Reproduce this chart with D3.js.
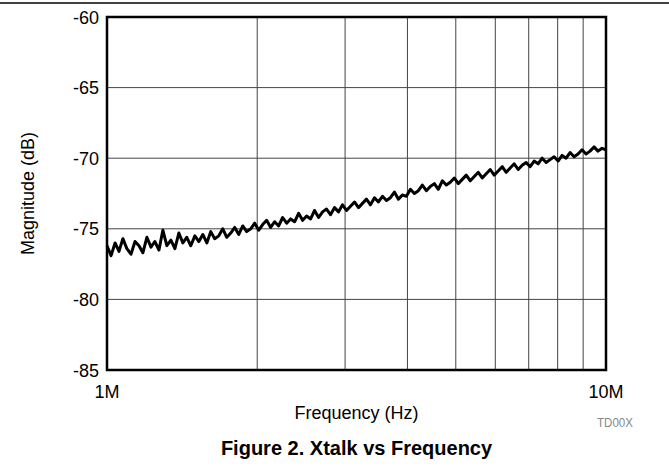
<!DOCTYPE html>
<html>
<head>
<meta charset="utf-8">
<script src="https://cdn.jsdelivr.net/npm/d3@7"></script>
<style>
  body { margin: 0; background: #fff; }
  text { font-family: "Liberation Sans", Arial, sans-serif; }
</style>
</head>
<body>
<div id="chart"></div>
<script>
// frequency in MHz
var freqMHz = [1.000,1.019,1.038,1.057,1.076,1.096,1.117,1.138,1.159,1.180,1.202,1.225,1.247,1.271,1.294,1.318,1.343,1.368,1.393,1.419,1.445,1.472,1.500,1.528,1.556,1.585,1.614,1.644,1.675,1.706,1.738,1.770,1.803,1.837,1.871,1.905,1.941,1.977,2.014,2.051,2.089,2.128,2.168,2.208,2.249,2.291,2.333,2.377,2.421,2.466,2.512,2.559,2.606,2.655,2.704,2.754,2.805,2.858,2.911,2.965,3.020,3.076,3.133,3.192,3.251,3.311,3.373,3.436,3.499,3.565,3.631,3.698,3.767,3.837,3.908,3.981,4.055,4.130,4.207,4.285,4.365,4.446,4.529,4.613,4.699,4.786,4.875,4.966,5.058,5.152,5.248,5.346,5.445,5.546,5.649,5.754,5.861,5.970,6.081,6.194,6.310,6.427,6.546,6.668,6.792,6.918,7.047,7.178,7.311,7.447,7.586,7.727,7.870,8.017,8.166,8.318,8.472,8.630,8.790,8.954,9.120,9.290,9.462,9.638,9.817,10.00];

// magnitude in dB
var magDB = [-76.2,-76.9,-76.0,-76.6,-75.7,-76.4,-76.8,-75.9,-76.2,-76.7,-75.6,-76.3,-75.9,-76.5,-75.1,-76.2,-75.8,-76.4,-75.3,-76.0,-75.6,-76.2,-75.5,-75.9,-75.4,-76.0,-75.2,-75.7,-75.5,-75.0,-75.6,-75.3,-74.9,-75.4,-74.8,-75.2,-75.0,-74.6,-75.1,-74.7,-74.4,-74.9,-74.5,-74.8,-74.2,-74.6,-74.3,-74.5,-73.9,-74.4,-74.1,-74.3,-73.7,-74.2,-73.8,-73.6,-74.0,-73.5,-73.8,-73.3,-73.7,-73.4,-73.1,-73.5,-73.2,-72.9,-73.3,-72.8,-73.1,-72.7,-73.0,-72.8,-72.4,-72.9,-72.6,-72.7,-72.2,-72.5,-72.3,-71.9,-72.3,-72.0,-71.8,-72.2,-71.6,-71.9,-71.7,-71.4,-71.8,-71.5,-71.2,-71.6,-71.3,-71.0,-71.4,-71.1,-70.8,-71.2,-70.9,-70.6,-71.0,-70.7,-70.4,-70.8,-70.5,-70.3,-70.6,-70.2,-70.4,-70.0,-70.3,-70.1,-69.9,-70.2,-69.8,-70.0,-69.6,-69.9,-69.7,-69.4,-69.7,-69.5,-69.2,-69.5,-69.3,-69.4];

var yTicks = [-85, -80, -75, -70, -65, -60];
var xGrid = [2, 3, 4, 5, 6, 7, 8, 9];
var xLabels = [{v: 1, t: "1M"}, {v: 10, t: "10M"}];

var W = 669, H = 466;
var pLeft = 107, pRight = 606, pTop = 17, pBottom = 370;

var svg = d3.select("#chart")
    .append("svg")
    .attr("width", W)
    .attr("height", H);

// header rule
svg.append("line")
    .attr("x1", 0).attr("x2", W)
    .attr("y1", 3).attr("y2", 3)
    .attr("stroke", "#000")
    .attr("stroke-width", 1.5);

var x = d3.scaleLog().domain([1, 10]).range([pLeft, pRight]);
var y = d3.scaleLinear().domain([-85, -60]).range([pBottom, pTop]);

// grid
svg.selectAll("line.vgrid")
    .data(xGrid)
    .enter()
    .append("line")
    .attr("class", "vgrid")
    .attr("x1", function(d){return x(d)})
    .attr("x2", function(d){return x(d)})
    .attr("y1", pTop)
    .attr("y2", pBottom)
    .attr("stroke", "#444")
    .attr("stroke-width", 1);

svg.selectAll("line.hgrid")
    .data(yTicks.slice(1, -1))
    .enter()
    .append("line")
    .attr("class", "hgrid")
    .attr("x1", pLeft)
    .attr("x2", pRight)
    .attr("y1", function(d){return y(d)})
    .attr("y2", function(d){return y(d)})
    .attr("stroke", "#444")
    .attr("stroke-width", 1);

// data line
var line = d3.line()
    .x(function(d, i){return x(freqMHz[i])})
    .y(function(d){return y(d)});

svg.append("path")
    .datum(magDB)
    .attr("d", line)
    .attr("fill", "none")
    .attr("stroke", "#000")
    .attr("stroke-width", 3)
    .attr("stroke-linejoin", "round");

// frame
svg.append("rect")
    .attr("x", pLeft)
    .attr("y", pTop)
    .attr("width", pRight - pLeft)
    .attr("height", pBottom - pTop)
    .attr("fill", "none")
    .attr("stroke", "#000")
    .attr("stroke-width", 2.5);

// y tick labels
svg.selectAll("text.ytick")
    .data(yTicks)
    .enter()
    .append("text")
    .attr("class", "ytick")
    .attr("x", pLeft - 8)
    .attr("y", function(d){return y(d) + 6.5})
    .attr("text-anchor", "end")
    .attr("font-size", 18)
    .text(function(d){return d});

// x tick labels
svg.selectAll("text.xtick")
    .data(xLabels)
    .enter()
    .append("text")
    .attr("class", "xtick")
    .attr("x", function(d){return x(d.v)})
    .attr("y", pBottom + 28)
    .attr("text-anchor", "middle")
    .attr("font-size", 18)
    .text(function(d){return d.t});

svg.append("text")
    .attr("x", (pLeft + pRight) / 2)
    .attr("y", 419)
    .attr("text-anchor", "middle")
    .attr("font-size", 18)
    .text("Frequency (Hz)");

svg.append("text")
    .attr("transform", "translate(34," + ((pTop + pBottom) / 2) + ") rotate(-90)")
    .attr("text-anchor", "middle")
    .attr("font-size", 18)
    .text("Magnitude (dB)");

svg.append("text")
    .attr("x", 597)
    .attr("y", 427)
    .attr("font-size", 13)
    .attr("fill", "#888")
    .attr("textLength", 36)
    .attr("lengthAdjust", "spacingAndGlyphs")
    .text("TD00X");

svg.append("text")
    .attr("x", (pLeft + pRight) / 2)
    .attr("y", 455)
    .attr("text-anchor", "middle")
    .attr("font-size", 20)
    .attr("font-weight", "bold")
    .text("Figure 2. Xtalk vs Frequency");
</script>
</body>
</html>
